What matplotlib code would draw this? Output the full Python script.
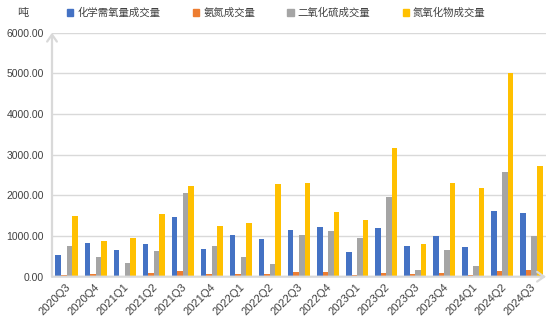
import numpy as np
import matplotlib.pyplot as plt
from matplotlib.patches import Patch

plt.rcParams['font.family'] = ['Liberation Sans', 'Noto Sans CJK SC', 'DejaVu Sans']

# quarterly trading volume (tonnes)
quarters = ['2020Q3', '2020Q4', '2021Q1', '2021Q2', '2021Q3', '2021Q4',
            '2022Q1', '2022Q2', '2022Q3', '2022Q4', '2023Q1', '2023Q2',
            '2023Q3', '2023Q4', '2024Q1', '2024Q2', '2024Q3']
cod = [535, 825, 655, 800, 1460, 680, 1030, 930, 1150, 1220, 610, 1195,
       750, 995, 730, 1615, 1565]
ammonia = [45, 65, 20, 90, 140, 65, 65, 65, 115, 115, 40, 90,
           65, 90, 40, 140, 165]
so2 = [750, 480, 335, 625, 2070, 750, 485, 310, 1025, 1125, 950, 1970,
       165, 650, 265, 2575, 1000]
nox = [1485, 875, 945, 1530, 2240, 1248, 1320, 2280, 2305, 1590, 1395, 3170,
       800, 2310, 2180, 5000, 2730]

series = [('化学需氧量成交量', cod, '#4472C4'),
          ('氨氮成交量', ammonia, '#ED7D31'),
          ('二氧化硫成交量', so2, '#A5A5A5'),
          ('氮氧化物成交量', nox, '#FFC000')]

text_color = '#404040'
line_color = '#D9D9D9'

fig = plt.figure(figsize=(5.54, 3.27), dpi=100)
ax = fig.add_axes([52 / 554, 1 - 276.7 / 327, 494 / 554, 244 / 327])

x = np.arange(len(quarters))
w = 0.19
for i, (name, vals, color) in enumerate(series):
    ax.bar(x + (i - 1.5) * w, vals, w, color=color, zorder=3, label=name)

ax.set_xlim(-0.5, len(quarters) - 0.5)
ax.set_ylim(0, 6000)
ax.set_yticks(np.arange(0, 6001, 1000))
ax.set_yticklabels([f'{v:.2f}' for v in range(0, 6001, 1000)])
ax.yaxis.grid(True, color=line_color, lw=1, zorder=0)
# ticks are hidden; nudge them right so the slanted labels end under the groups
ax.set_xticks(x + 0.2)
ax.set_xticklabels(quarters, rotation=45, ha='right', va='top')
ax.tick_params(axis='both', length=0, labelsize=7.5, labelcolor=text_color)
ax.tick_params(axis='x', labelsize=8, pad=4)
ax.tick_params(axis='y', pad=6)
for s in ax.spines.values():
    s.set_visible(False)

# axis lines with open arrowheads
arrow = dict(arrowstyle='->, head_length=0.5, head_width=0.35',
             color=line_color, lw=1.6, shrinkA=0, shrinkB=0)
ax.annotate('', xy=(0, 1), xytext=(0, 0), xycoords='axes fraction',
            arrowprops=arrow, zorder=4)
ax.annotate('', xy=(1, 0), xytext=(0, 0), xycoords='axes fraction',
            arrowprops=arrow, zorder=4)

fig.text(17 / 554, 1 - 13 / 327, '吨', fontsize=8, color=text_color,
         va='center', ha='left')

handles = [Patch(color=c, label=n) for n, _, c in series]
fig.legend(handles=handles, loc='center left', ncol=4,
           bbox_to_anchor=(67 / 554, 1 - 13 / 327), frameon=False,
           fontsize=7.5, handlelength=0.6, handleheight=0.6,
           handletextpad=0.4, columnspacing=3.1, borderpad=0,
           borderaxespad=0, labelcolor=text_color)

fig.savefig('out.png', dpi=100)
